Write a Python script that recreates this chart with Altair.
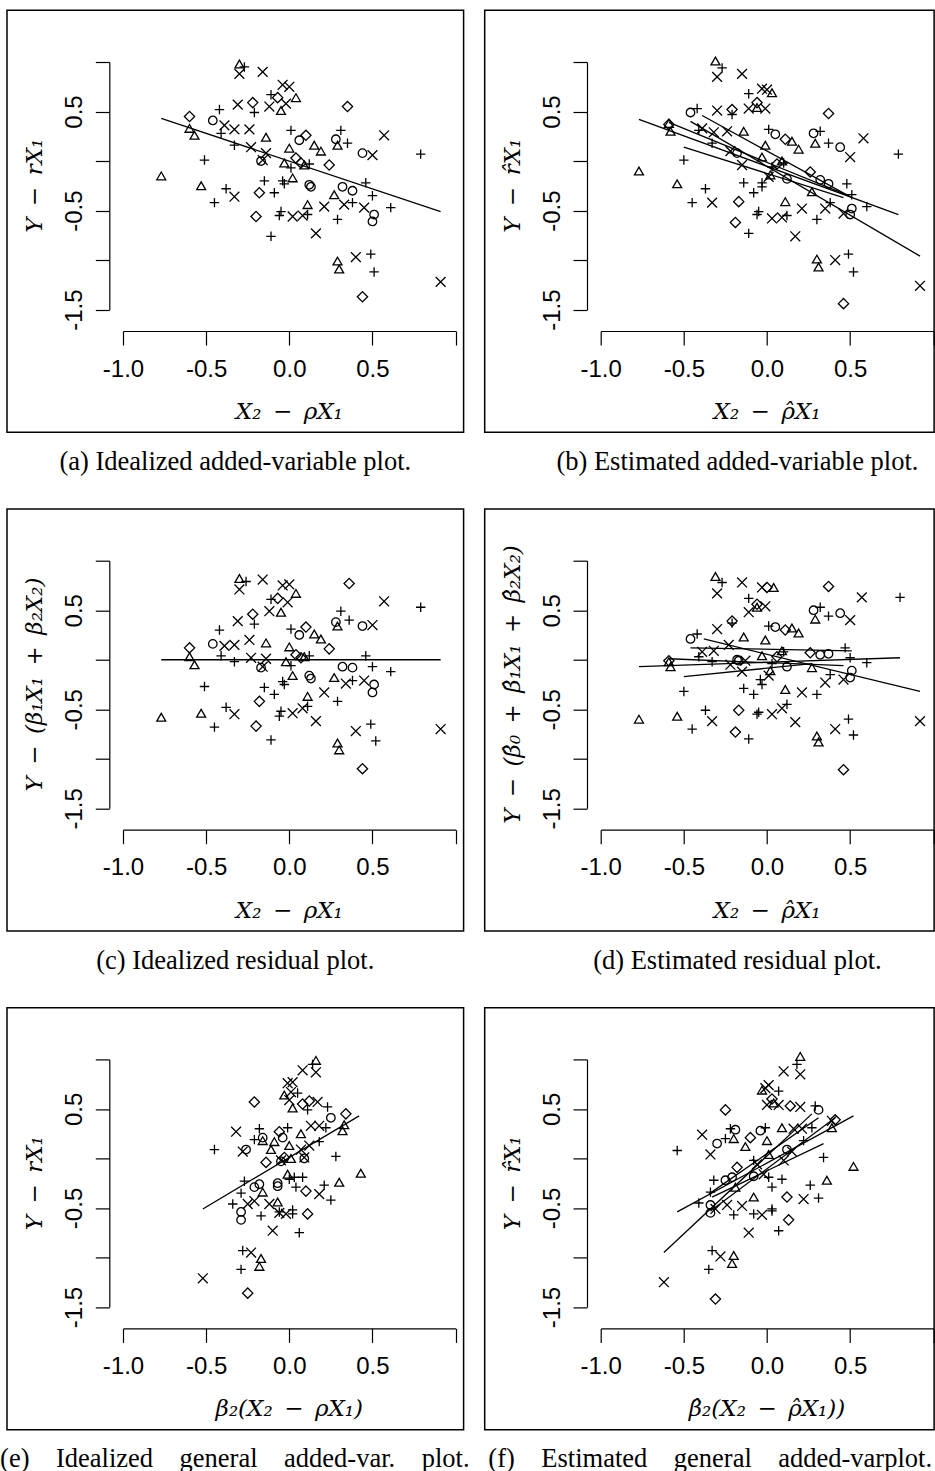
import altair as alt
import pandas as pd

# ---------------------------------------------------------------------------
# Data: six views of the same regression sample.  Symbol codes:
# o = circle, t = triangle, p = plus, x = cross, d = diamond
# ---------------------------------------------------------------------------

# (a) idealized added-variable plot
A_X = [-0.30, -0.27, -0.30, -0.16, -0.04, 0.00, -0.11, -0.07, 0.04, -0.02,
       -0.31, -0.22, -0.12, -0.05, -0.42, -0.21, 0.35, -0.60, -0.46, -0.39,
       -0.33, -0.24, -0.60, -0.57, -0.41, -0.14, 0.01, 0.06, 0.10, 0.31,
       0.28, 0.29, 0.35, 0.57, 0.15, 0.19, -0.33, -0.23, 0.00, -0.14,
       0.44, 0.50, 0.79, -0.17, -0.16, -0.51, 0.04, -0.03, 0.07, 0.09,
       0.12, 0.24, 0.01, -0.77, 0.02, -0.04, -0.15, 0.12, 0.13, -0.53,
       -0.38, -0.33, -0.18, -0.09, -0.03, 0.32, 0.38, 0.46, 0.50, 0.27,
       -0.45, 0.11, 0.21, 0.33, 0.38, 0.45, 0.61, 0.51, 0.50, -0.20,
       -0.05, -0.06, 0.02, 0.08, 0.11, 0.29, 0.16, -0.11, 0.29, 0.30,
       0.40, 0.49, 0.51, 0.91, 0.44]
A_Y = [0.98, 0.95, 0.88, 0.90, 0.77, 0.75, 0.67, 0.64, 0.64, 0.58,
       0.57, 0.59, 0.55, 0.51, 0.52, 0.49, 0.55, 0.45, 0.41, 0.36,
       0.32, 0.32, 0.33, 0.26, 0.28, 0.24, 0.31, 0.21, 0.26, 0.31,
       0.22, 0.16, 0.18, 0.26, 0.16, 0.10, 0.16, 0.14, 0.13, 0.08,
       0.08, 0.06, 0.07, 0.00, 0.01, 0.01, 0.03, -0.02, -0.02, -0.04,
       -0.03, -0.04, -0.07, -0.15, -0.17, -0.20, -0.20, -0.24, -0.26, -0.25,
       -0.28, -0.36, -0.32, -0.32, -0.23, -0.26, -0.30, -0.22, -0.35, -0.34,
       -0.42, -0.44, -0.46, -0.44, -0.42, -0.47, -0.47, -0.54, -0.61, -0.56,
       -0.51, -0.55, -0.56, -0.55, -0.54, -0.59, -0.73, -0.76, -1.01, -1.09,
       -0.97, -0.94, -1.12, -1.22, -1.37]
A_G = ("tpxxxxpdtx" "xdxtppddox" "xxttptpodp" "otpxttpxtx" "oxpoxpdtdt"
       "pdpttppoot" "pxdppooppt" "ptxxpxpood" "ppxxppxptt" "xppxd")
A_SEGMENTS = [(-0.77, 0.43, 0.91, -0.51)]

# (b) estimated added-variable plot
B_X = [-0.31, -0.27, -0.30, -0.15, -0.03, 0.00, -0.11, 0.03, -0.06, -0.06,
       -0.11, -0.01, -0.46, -0.42, -0.30, -0.21, -0.21, 0.37, -0.59, -0.59,
       -0.58, -0.39, -0.41, -0.32, -0.24, -0.14, 0.01, 0.05, 0.28, 0.32,
       0.29, 0.37, 0.44, 0.58, 0.11, 0.15, 0.19, -0.01, -0.33, -0.22,
       -0.18, -0.15, 0.50, 0.79, -0.50, -0.03, 0.09, 0.10, 0.06, 0.03,
       0.26, -0.77, 0.01, 0.02, 0.12, 0.32, 0.37, 0.48, 0.51, 0.27,
       -0.54, -0.37, -0.33, -0.45, -0.17, -0.14, -0.08, -0.03, -0.03, 0.11,
       0.21, 0.35, 0.38, 0.46, 0.51, 0.50, 0.60, -0.05, -0.06, 0.03,
       0.09, 0.12, -0.19, 0.30, -0.11, 0.17, 0.30, 0.31, 0.41, 0.49,
       0.52, 0.92, 0.46]
B_Y = [1.01, 0.94, 0.85, 0.88, 0.73, 0.72, 0.68, 0.69, 0.59, 0.54,
       0.53, 0.53, 0.49, 0.53, 0.51, 0.52, 0.47, 0.48, 0.38, 0.37,
       0.30, 0.33, 0.31, 0.29, 0.30, 0.30, 0.32, 0.27, 0.28, 0.30,
       0.18, 0.18, 0.14, 0.23, 0.22, 0.20, 0.12, 0.16, 0.18, 0.10,
       0.08, -0.04, 0.04, 0.07, 0.01, 0.04, 0.00, -0.02, -0.03, -0.06,
       -0.11, -0.10, -0.16, -0.14, -0.18, -0.19, -0.23, -0.23, -0.34, -0.31,
       -0.23, -0.28, -0.42, -0.42, -0.41, -0.22, -0.32, -0.22, -0.26, -0.41,
       -0.48, -0.48, -0.42, -0.53, -0.48, -0.54, -0.46, -0.51, -0.54, -0.58,
       -0.57, -0.55, -0.62, -0.59, -0.73, -0.76, -0.99, -1.07, -1.00, -0.94,
       -1.12, -1.26, -1.44]
B_G = ("tpxxxxptdt" "xxopxdpdtd" "txpxxtpoop" "tpoxdtttpx" "oxxppttpdp"
       "dtxtoooppt" "tpxpdppppt" "xxpxoopppx" "xpdppxttxp" "pxd")
B_SEGMENTS = [(-0.77, 0.42, 0.79, -0.54),
              (-0.46, 0.40, 0.92, -0.96),
              (-0.39, 0.46, 0.51, -0.37),
              (-0.59, 0.39, 0.49, -0.35),
              (-0.50, 0.14, 0.46, -0.37)]

# (c) idealized residual plot
C_X = [-0.30, -0.26, -0.30, -0.16, -0.04, 0.00, 0.36, -0.11, -0.07, 0.04,
       -0.01, 0.57, 0.79, -0.31, -0.22, -0.12, -0.05, -0.21, -0.42, 0.31,
       0.28, 0.29, 0.36, 0.44, 0.50, 0.01, 0.06, 0.10, 0.15, 0.19,
       0.24, -0.60, -0.46, -0.39, -0.33, -0.24, -0.14, 0.00, -0.60, -0.57,
       -0.41, -0.33, -0.23, -0.14, 0.04, 0.07, 0.09, 0.12, -0.02, 0.01,
       0.46, 0.50, 0.61, -0.17, -0.16, 0.32, 0.38, 0.02, 0.12, 0.13,
       0.27, 0.34, 0.38, 0.45, 0.51, 0.50, -0.51, -0.15, -0.09, -0.04,
       -0.03, -0.18, 0.11, 0.21, 0.29, -0.77, -0.53, -0.38, -0.33, -0.45,
       -0.20, -0.05, -0.06, 0.02, 0.08, 0.11, 0.16, -0.11, 0.40, 0.49,
       0.52, 0.29, 0.30, 0.91, 0.44]
C_Y = [0.82, 0.79, 0.71, 0.81, 0.75, 0.76, 0.77, 0.61, 0.62, 0.67,
       0.58, 0.59, 0.53, 0.39, 0.46, 0.49, 0.48, 0.36, 0.30, 0.49,
       0.38, 0.34, 0.40, 0.34, 0.35, 0.31, 0.25, 0.33, 0.26, 0.21,
       0.11, 0.12, 0.16, 0.14, 0.15, 0.20, 0.17, 0.13, 0.03, -0.05,
       0.04, -0.02, 0.02, 0.01, 0.05, 0.02, 0.03, 0.04, -0.02, -0.06,
       0.04, -0.07, -0.12, -0.08, -0.07, -0.07, -0.08, -0.16, -0.16, -0.19,
       -0.18, -0.24, -0.21, -0.21, -0.25, -0.33, -0.27, -0.28, -0.35, -0.22,
       -0.25, -0.42, -0.37, -0.33, -0.42, -0.58, -0.54, -0.48, -0.55, -0.68,
       -0.67, -0.52, -0.57, -0.54, -0.49, -0.47, -0.62, -0.81, -0.72, -0.65,
       -0.82, -0.84, -0.91, -0.70, -1.10]
C_G = ("tpxxxxdpdt" "xxpxdxtppp" "otpoxpodtt" "ddoxxxtttt" "ppxxddtptp"
       "pppoxootoo" "txpxoopppp" "pdtxpttpxp" "dppxxpxpxp" "pttxd")
C_SEGMENTS = [(-0.77, 0.0, 0.91, 0.0)]

# (d) estimated residual plot
D_X = [-0.31, -0.27, -0.30, -0.15, -0.03, 0.00, 0.04, 0.37, 0.57, 0.80,
       -0.11, -0.06, -0.06, -0.01, -0.11, 0.28, 0.32, 0.37, 0.44, 0.50,
       0.29, -0.21, -0.21, -0.30, 0.01, 0.05, 0.15, 0.11, 0.19, -0.46,
       -0.42, -0.14, -0.01, -0.23, -0.39, -0.32, -0.41, -0.33, -0.22, -0.59,
       -0.58, -0.59, -0.18, -0.17, -0.13, -0.03, 0.09, 0.10, 0.06, 0.03,
       0.26, 0.32, 0.37, 0.47, 0.50, 0.60, 0.51, 0.50, 0.02, 0.12,
       0.01, 0.27, -0.15, 0.35, 0.38, 0.46, -0.04, -0.03, -0.50, -0.14,
       -0.08, 0.11, 0.21, 0.30, -0.77, -0.54, -0.37, -0.33, -0.45, -0.17,
       -0.05, -0.06, 0.03, 0.09, 0.12, 0.17, -0.19, -0.11, 0.41, 0.49,
       0.52, 0.30, 0.31, 0.92, 0.46]
D_Y = [0.84, 0.78, 0.67, 0.78, 0.73, 0.73, 0.73, 0.74, 0.63, 0.63,
       0.62, 0.56, 0.53, 0.54, 0.48, 0.50, 0.53, 0.44, 0.47, 0.40,
       0.41, 0.39, 0.37, 0.31, 0.34, 0.33, 0.32, 0.30, 0.27, 0.21,
       0.26, 0.23, 0.20, 0.15, 0.08, 0.09, 0.03, -0.02, -0.05, -0.02,
       -0.07, -0.01, 0.00, -0.01, -0.01, 0.04, 0.09, 0.08, 0.03, -0.04,
       0.07, 0.05, 0.06, 0.12, 0.02, -0.03, -0.11, -0.18, -0.11, -0.07,
       -0.16, -0.08, -0.12, -0.23, -0.15, -0.20, -0.20, -0.25, -0.32, -0.29,
       -0.35, -0.30, -0.33, -0.35, -0.60, -0.57, -0.51, -0.62, -0.70, -0.51,
       -0.53, -0.55, -0.55, -0.49, -0.45, -0.63, -0.73, -0.80, -0.70, -0.60,
       -0.76, -0.77, -0.83, -0.62, -1.11]
D_G = ("tpxxxdtdxp" "pdtxxoppox" "tdpxpotdto" "pttxxxppxt" "tdooxttpdp"
       "doopppooto" "xtxxpxpppp" "ptxpttpxpd" "ppxxpxdpxp" "pttxd")
D_SEGMENTS = [(-0.77, -0.07, 0.80, 0.02),
              (-0.38, 0.21, 0.92, -0.32),
              (-0.46, 0.12, 0.51, 0.09),
              (-0.59, 0.01, 0.46, -0.06),
              (-0.50, -0.17, 0.27, -0.04)]

# (e) idealized general added-variable plot
E_X = [0.16, 0.14, 0.08, 0.16, -0.01, 0.02, 0.01, 0.05, -0.03, -0.21,
       0.00, 0.12, 0.17, 0.08, 0.02, 0.11, 0.23, 0.34, 0.25, 0.33,
       0.32, 0.13, 0.18, 0.22, -0.32, -0.18, -0.06, -0.01, -0.16, -0.21,
       -0.16, -0.09, -0.04, 0.07, -0.11, 0.00, 0.07, 0.12, 0.18, -0.45,
       -0.28, -0.26, -0.14, -0.05, -0.03, 0.01, -0.05, 0.09, 0.09, 0.28,
       0.43, -0.01, 0.00, 0.08, 0.03, -0.27, -0.21, -0.18, -0.16, -0.07,
       -0.07, 0.10, 0.04, 0.21, 0.18, 0.30, 0.25, -0.29, -0.25, -0.21,
       -0.34, -0.12, -0.07, -0.29, -0.29, -0.17, -0.06, -0.02, -0.06, 0.02,
       0.02, 0.11, -0.10, 0.06, -0.28, -0.23, -0.17, -0.18, -0.29, -0.52,
       -0.25]
E_Y = [0.99, 0.95, 0.89, 0.87, 0.76, 0.77, 0.67, 0.66, 0.64, 0.57,
       0.59, 0.58, 0.57, 0.55, 0.51, 0.49, 0.52, 0.45, 0.41, 0.34,
       0.28, 0.33, 0.33, 0.31, 0.27, 0.30, 0.27, 0.31, 0.21, 0.19,
       0.18, 0.17, 0.21, 0.25, 0.09, 0.13, 0.09, 0.13, 0.17, 0.09,
       0.07, 0.09, -0.04, -0.03, 0.01, 0.00, -0.02, 0.00, 0.01, 0.02,
       -0.15, -0.16, -0.21, -0.19, -0.19, -0.23, -0.29, -0.26, -0.34, -0.25,
       -0.28, -0.33, -0.29, -0.27, -0.36, -0.24, -0.42, -0.35, -0.46, -0.43,
       -0.46, -0.46, -0.44, -0.54, -0.62, -0.58, -0.55, -0.56, -0.54, -0.52,
       -0.56, -0.56, -0.73, -0.75, -0.93, -0.95, -1.01, -1.09, -1.12, -1.21,
       -1.36]
E_G = ("tpxxxxxptd" "xdxdtppdot" "txxpxpdpop" "ttotttxxpp" "xododtxoxp"
       "ttppppooto" "odppxtppxx" "pxtoopxxpp" "pdxppxttpx" "d")
E_SEGMENTS = [(-0.52, -0.51, 0.42, 0.43)]

# (f) estimated general added-variable plot
F_X = [0.20, 0.18, 0.10, 0.20, 0.01, -0.03, -0.01, 0.07, 0.03, 0.04,
       0.00, 0.07, -0.25, 0.14, 0.20, 0.29, 0.31, 0.41, 0.39, 0.39,
       -0.19, -0.22, -0.01, -0.04, 0.09, 0.16, 0.21, 0.27, -0.39, -0.30,
       -0.25, -0.20, -0.13, -0.10, 0.00, -0.34, -0.54, 0.12, 0.15, 0.22,
       0.34, 0.52, 0.01, 0.10, -0.08, -0.06, -0.18, -0.08, -0.02, 0.01,
       0.36, 0.26, 0.22, 0.31, -0.25, -0.21, -0.19, -0.32, -0.34, 0.03,
       0.09, 0.12, -0.08, -0.41, -0.34, -0.34, -0.31, -0.24, -0.15, -0.20,
       -0.08, -0.03, 0.03, 0.03, 0.13, -0.11, 0.07, -0.33, -0.28, -0.20,
       -0.21, -0.35, -0.62, -0.31]
F_Y = [1.03, 0.95, 0.88, 0.85, 0.74, 0.69, 0.71, 0.68, 0.60, 0.56,
       0.54, 0.54, 0.49, 0.53, 0.52, 0.53, 0.49, 0.39, 0.31, 0.38,
       0.29, 0.30, 0.31, 0.28, 0.31, 0.30, 0.30, 0.31, 0.24, 0.15,
       0.20, 0.20, 0.12, 0.21, 0.18, 0.04, 0.08, 0.09, 0.07, 0.18,
       0.01, -0.08, 0.04, -0.02, -0.02, -0.06, -0.09, -0.18, -0.16, -0.19,
       -0.22, -0.27, -0.41, -0.40, -0.22, -0.19, -0.29, -0.22, -0.34, -0.29,
       -0.21, -0.39, -0.39, -0.45, -0.47, -0.55, -0.51, -0.47, -0.48, -0.57,
       -0.56, -0.57, -0.51, -0.53, -0.62, -0.75, -0.73, -0.93, -0.99, -0.98,
       -1.06, -1.12, -1.25, -1.42]
F_G = ("tpxxxtxpdt" "xxddxpodtx" "oppotxxpxo" "pttdtxpoxp" "pttxpxdoxp"
       "tpxpootppp" "pdtpooxxxp" "pxppdxppxt" "tpxd")
F_SEGMENTS = [(-0.54, -0.54, 0.52, 0.43),
              (-0.62, -0.95, 0.27, 0.45),
              (-0.35, -0.36, 0.31, 0.41),
              (-0.34, -0.53, 0.41, 0.41),
              (-0.33, -0.39, 0.34, 0.15)]

X_TICKS = [-1.0, -0.5, 0.0, 0.5, 1.0]
Y_TICKS = [-1.5, -1.0, -0.5, 0.0, 0.5, 1.0]

# ---------------------------------------------------------------------------
# Styling
# ---------------------------------------------------------------------------
SYMBOL_CODES = ["o", "t", "p", "x", "d"]
SYMBOL_SHAPES = ["circle", "triangle-up", "M-1,0L1,0M0,-1L0,1",
                 "M-1,-1L1,1M-1,1L1,-1", "diamond"]
SYMBOL_SIZES = [72, 105, 100, 70, 135]

PLOT_W = 332.6
PLOT_H = 247.6
SANS = "Liberation Sans"
SERIF = "Liberation Serif"
MATH = "DejaVu Serif"

# wider gaps around binary operators in the math titles, and justified
# (stretched) word gaps in the long captions of the last row
OP = "\u2002"
WIDE = "\u2003"

X_LABELS = ("datum.value > 0.99 ? '' : "
            "(datum.value < 0 ? '-' : '') + format(abs(datum.value), '.1f')")
Y_LABELS = ("(datum.value == 0.5 || datum.value == -0.5 || datum.value == -1.5) ? "
            "(datum.value < 0 ? '-' : '') + format(abs(datum.value), '.1f') : ''")

X_SCALE = alt.Scale(domain=[-1.0, 1.0], nice=False, zero=False)
Y_SCALE = alt.Scale(domain=[-1.5, 1.0], nice=False, zero=False)

X_AXIS = alt.Axis(values=X_TICKS, labelExpr=X_LABELS, title=None, grid=False,
                  tickSize=14, tickWidth=1.2, tickColor="black",
                  domainColor="black", domainWidth=1.2,
                  labelFont=SANS, labelFontSize=24, labelColor="black",
                  labelPadding=12, labelOverlap=False, labelFlush=False,
                  offset=21.4)
Y_AXIS = alt.Axis(values=Y_TICKS, labelExpr=Y_LABELS, title=None, grid=False,
                  tickSize=14, tickWidth=1.2, tickColor="black",
                  domainColor="black", domainWidth=1.2,
                  labelFont=SANS, labelFontSize=24, labelColor="black",
                  labelAngle=270, labelAlign="center", labelBaseline="alphabetic",
                  labelPadding=14, labelOverlap=False, labelFlush=False,
                  offset=13.7)

ONE = pd.DataFrame({"k": [0]})


def panel(xs, ys, codes, segments, xtitle, ytitle, caption, cap_x, right_edge):
    pts = pd.DataFrame({"x": xs, "y": ys, "g": list(codes)})
    segs = pd.DataFrame(segments, columns=["x1", "y1", "x2", "y2"])

    # invisible corner marker fixing the page origin relative to the plot area
    anchor = alt.Chart(ONE).mark_rect(opacity=0).encode(
        x=alt.value(-122.7), x2=alt.value(-121.7),
        y=alt.value(-61.7), y2=alt.value(-60.7))

    box = alt.Chart(ONE).mark_rect(fillOpacity=0, stroke="black", strokeWidth=1.5).encode(
        x=alt.value(-116), x2=alt.value(right_edge),
        y=alt.value(-51.7), y2=alt.value(370.3))

    points = alt.Chart(pts).mark_point(filled=False, color="black", opacity=1,
                                       strokeWidth=1.3).encode(
        x=alt.X("x:Q", scale=X_SCALE, axis=X_AXIS),
        y=alt.Y("y:Q", scale=Y_SCALE, axis=Y_AXIS),
        shape=alt.Shape("g:N", scale=alt.Scale(domain=SYMBOL_CODES, range=SYMBOL_SHAPES),
                        legend=None),
        size=alt.Size("g:N", scale=alt.Scale(domain=SYMBOL_CODES, range=SYMBOL_SIZES),
                      legend=None),
    )

    fits = alt.Chart(segs).mark_rule(color="black", strokeWidth=1.3).encode(
        x=alt.X("x1:Q", scale=X_SCALE), y=alt.Y("y1:Q", scale=Y_SCALE),
        x2="x2:Q", y2="y2:Q")

    x_title = alt.Chart(ONE).mark_text(
        text=xtitle, font=MATH, fontSize=23, fontStyle="italic", color="black",
        align="center", baseline="middle").encode(
        x=alt.value(PLOT_W / 2), y=alt.value(350))

    y_title = alt.Chart(ONE).mark_text(
        text=ytitle, font=MATH, fontSize=23, fontStyle="italic", color="black",
        align="center", baseline="middle", angle=270).encode(
        x=alt.value(-87.7), y=alt.value(PLOT_H / 2))

    cap = alt.Chart(ONE).mark_text(
        text=caption, font=SERIF, fontSize=26.5, color="black",
        align="center", baseline="middle").encode(
        x=alt.value(cap_x), y=alt.value(400))

    return alt.layer(anchor, box, fits, points, x_title, y_title, cap).properties(
        width=PLOT_W, height=PLOT_H)


LEFT_EDGE = 340.6
RIGHT_EDGE = 333.4

panels = [
    panel(A_X, A_Y, A_G, A_SEGMENTS,
          f"X\u2082{OP}\u2212{OP}\u03c1X\u2081", f"Y{OP}\u2212{OP}rX\u2081",
          "(a) Idealized added-variable plot.", 112.3, LEFT_EDGE),
    panel(B_X, B_Y, B_G, B_SEGMENTS,
          f"X\u2082{OP}\u2212{OP}\u03c1\u0302X\u2081", f"Y{OP}\u2212{OP}r\u0302X\u2081",
          "(b) Estimated added-variable plot.", 136.7, RIGHT_EDGE),
    panel(C_X, C_Y, C_G, C_SEGMENTS,
          f"X\u2082{OP}\u2212{OP}\u03c1X\u2081",
          f"Y{OP}\u2212{OP}(\u03b2\u2081X\u2081{OP}+{OP}\u03b2\u2082X\u2082)",
          "(c) Idealized residual plot.", 112.3, LEFT_EDGE),
    panel(D_X, D_Y, D_G, D_SEGMENTS,
          f"X\u2082{OP}\u2212{OP}\u03c1\u0302X\u2081",
          f"Y{OP}\u2212{OP}(\u03b2\u0302\u2080{OP}+{OP}\u03b2\u0302\u2081X\u2081"
          f"{OP}+{OP}\u03b2\u0302\u2082X\u2082)",
          "(d) Estimated residual plot.", 136.7, RIGHT_EDGE),
    panel(E_X, E_Y, E_G, E_SEGMENTS,
          f"\u03b2\u2082(X\u2082{OP}\u2212{OP}\u03c1X\u2081)", f"Y{OP}\u2212{OP}rX\u2081",
          f"(e){WIDE}Idealized{WIDE}general{WIDE}added-var.{WIDE}plot.", 111.8, LEFT_EDGE),
    panel(F_X, F_Y, F_G, F_SEGMENTS,
          f"\u03b2\u0302\u2082(X\u2082{OP}\u2212{OP}\u03c1\u0302X\u2081))",
          f"Y{OP}\u2212{OP}r\u0302X\u2081",
          f"(f){WIDE}Estimated{WIDE}general{WIDE}added-varplot.", 109.5, RIGHT_EDGE),
]

chart = alt.concat(
    *panels, columns=2, bounds="flush",
    spacing={"row": 250.7, "column": 144.7},
).properties(
    padding={"left": 0, "top": 0, "right": 0, "bottom": 0},
).configure_view(strokeWidth=0)

chart.save("out.html", embed_options={"renderer": "svg", "actions": False})
